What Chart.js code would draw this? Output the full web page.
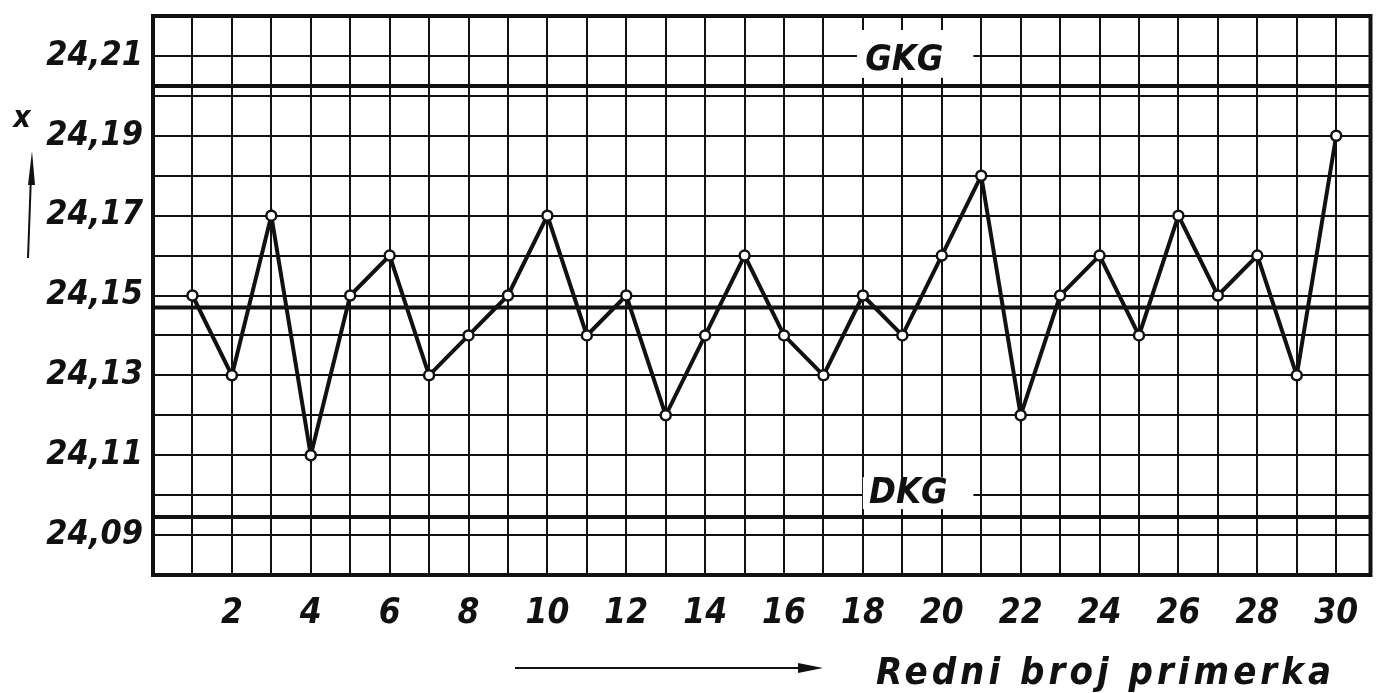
<!DOCTYPE html>
<html>
<head>
<meta charset="utf-8">
<script src="https://cdn.jsdelivr.net/npm/chart.js@4.4.1/dist/chart.umd.min.js"></script>
<style>
    html, body { margin: 0; padding: 0; background: #ffffff; }
</style>
</head>
<body>
<canvas id="chart" width="1378" height="693"></canvas>
<script>
(function() {
    'use strict';

    // Redni broj primerka i izmerene vrednosti
    var sampleNo = [1, 2, 3, 4, 5, 6, 7, 8, 9, 10, 11, 12, 13, 14, 15,
                    16, 17, 18, 19, 20, 21, 22, 23, 24, 25, 26, 27, 28, 29, 30];
    var measured = [24.15, 24.13, 24.17, 24.11, 24.15, 24.16, 24.13, 24.14, 24.15, 24.17,
                    24.14, 24.15, 24.12, 24.14, 24.16, 24.14, 24.13, 24.15, 24.14, 24.16,
                    24.18, 24.12, 24.15, 24.16, 24.14, 24.17, 24.15, 24.16, 24.13, 24.19];

    // Oznake na osama
    var xTickLabels = ['2', '4', '6', '8', '10', '12', '14', '16', '18', '20', '22', '24', '26', '28', '30'];
    var yTickValues = [24.09, 24.11, 24.13, 24.15, 24.17, 24.19, 24.21];
    var yTickLabels = ['24,09', '24,11', '24,13', '24,15', '24,17', '24,19', '24,21'];

    // Kontrolne granice
    var upperLimit = 24.2025;   // GKG
    var centerLine = 24.147;
    var lowerLimit = 24.0945;   // DKG
    var upperName = 'GKG';
    var lowerName = 'DKG';

    var xTitle = 'Redni broj primerka';
    var yTitle = 'x';

    var X_MIN = 0, X_MAX = 30.87;
    var Y_MIN = 24.08, Y_MAX = 24.22;

    var INK = '#111111';
    var FONT = "'Liberation Sans Narrow', 'DejaVu Sans Condensed', 'Liberation Sans', sans-serif";

    function limitLine(value) {
        return {
            type: 'line',
            data: [{ x: X_MIN, y: value }, { x: X_MAX, y: value }],
            borderColor: INK,
            borderWidth: 4,
            pointRadius: 0,
            order: 2
        };
    }

    function whiteBox(ctx, xs, ys, x1, x2, y1, y2) {
        var l = xs.getPixelForValue(x1), r = xs.getPixelForValue(x2);
        var t = ys.getPixelForValue(y1), b = ys.getPixelForValue(y2);
        ctx.fillRect(l, t, r - l, b - t);
    }

    var decorPlugin = {
        id: 'decor',
        beforeDatasetsDraw: function(chart) {
            var ctx = chart.ctx, xs = chart.scales.x, ys = chart.scales.y;
            ctx.save();
            ctx.fillStyle = '#ffffff';
            whiteBox(ctx, xs, ys, 17.85, 20.8, 24.2165, 24.2045);
            whiteBox(ctx, xs, ys, 18.0, 20.8, 24.1045, 24.0965);
            ctx.restore();
        },
        afterDraw: function(chart) {
            var ctx = chart.ctx, xs = chart.scales.x, ys = chart.scales.y;
            var area = chart.chartArea;
            ctx.save();

            // okvir dijagrama
            ctx.strokeStyle = INK;
            ctx.lineWidth = 4;
            ctx.strokeRect(area.left, area.top, area.right - area.left, area.bottom - area.top);

            // GKG / DKG
            ctx.fillStyle = INK;
            ctx.font = 'italic bold 36px ' + FONT;
            ctx.textAlign = 'center';
            ctx.textBaseline = 'middle';
            ctx.fillText(upperName, xs.getPixelForValue(19.05), ys.getPixelForValue(24.2088));
            ctx.fillText(lowerName, xs.getPixelForValue(19.15), ys.getPixelForValue(24.1005));

            // naziv x ose sa strelicom
            ctx.textAlign = 'left';
            ctx.textBaseline = 'alphabetic';
            ctx.font = 'italic bold 38px ' + FONT;
            ctx.letterSpacing = '4px';
            ctx.fillText(xTitle, 876, 684);
            ctx.letterSpacing = '0px';
            ctx.lineWidth = 2;
            ctx.beginPath();
            ctx.moveTo(515, 668);
            ctx.lineTo(805, 668);
            ctx.stroke();
            ctx.beginPath();
            ctx.moveTo(823, 668);
            ctx.lineTo(798, 663);
            ctx.lineTo(798, 673);
            ctx.closePath();
            ctx.fill();

            // naziv y ose sa strelicom
            ctx.font = 'italic bold 30px ' + FONT;
            ctx.textAlign = 'center';
            ctx.textBaseline = 'middle';
            ctx.fillText(yTitle, 22, 119);
            ctx.beginPath();
            ctx.moveTo(28, 258);
            ctx.lineTo(31, 175);
            ctx.stroke();
            ctx.beginPath();
            ctx.moveTo(32, 151);
            ctx.lineTo(35, 185);
            ctx.lineTo(28, 185);
            ctx.closePath();
            ctx.fill();

            ctx.restore();
        }
    };

    var ctx = document.getElementById('chart').getContext('2d');
    new Chart(ctx, {
        type: 'line',
        data: {
            datasets: [
                {
                    data: sampleNo.map(function(n, i) { return { x: n, y: measured[i] }; }),
                    borderColor: INK,
                    borderWidth: 4,
                    tension: 0,
                    pointRadius: 5,
                    pointBackgroundColor: '#ffffff',
                    pointBorderColor: INK,
                    pointBorderWidth: 2.5,
                    order: 1
                },
                limitLine(upperLimit),
                limitLine(centerLine),
                limitLine(lowerLimit)
            ]
        },
        options: {
            responsive: false,
            animation: false,
            layout: {
                padding: { top: 16, right: 3, bottom: 0, left: 0 }
            },
            plugins: {
                legend: { display: false },
                tooltip: { enabled: false }
            },
            scales: {
                x: {
                    type: 'linear',
                    min: X_MIN,
                    max: X_MAX,
                    afterBuildTicks: function(scale) {
                        var t = [];
                        for (var i = 0; i <= 30; i++) t.push({ value: i });
                        scale.ticks = t;
                    },
                    afterFit: function(scale) {
                        scale.height = 118;
                        scale.paddingLeft = 0;
                        scale.paddingRight = 0;
                    },
                    border: { display: false },
                    grid: {
                        color: INK,
                        lineWidth: 2,
                        drawTicks: false
                    },
                    ticks: {
                        padding: 18,
                        color: INK,
                        maxRotation: 0,
                        autoSkip: false,
                        font: { family: FONT, size: 35, style: 'italic', weight: 'bold' },
                        callback: function(value) {
                            var s = String(value);
                            return xTickLabels.indexOf(s) >= 0 ? s : '';
                        }
                    }
                },
                y: {
                    type: 'linear',
                    min: Y_MIN,
                    max: Y_MAX,
                    afterBuildTicks: function(scale) {
                        var t = [];
                        for (var i = 0; i <= 14; i++) t.push({ value: Math.round((Y_MIN + i * 0.01) * 100) / 100 });
                        scale.ticks = t;
                    },
                    afterFit: function(scale) {
                        scale.width = 153;
                        scale.paddingTop = 0;
                        scale.paddingBottom = 0;
                    },
                    border: { display: false },
                    grid: {
                        color: INK,
                        lineWidth: 2,
                        drawTicks: false
                    },
                    ticks: {
                        padding: 10,
                        color: INK,
                        autoSkip: false,
                        font: { family: FONT, size: 34, style: 'italic', weight: 'bold' },
                        callback: function(value) {
                            for (var i = 0; i < yTickValues.length; i++) {
                                if (Math.abs(yTickValues[i] - value) < 0.001) return yTickLabels[i];
                            }
                            return '';
                        }
                    }
                }
            }
        },
        plugins: [decorPlugin]
    });
})();
</script>
</body>
</html>
